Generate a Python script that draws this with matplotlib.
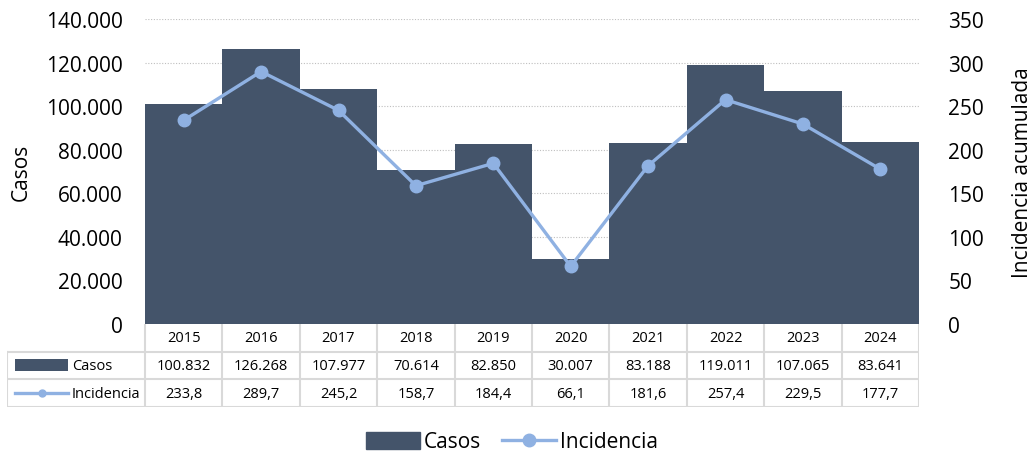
import matplotlib.pyplot as plt
from matplotlib.lines import Line2D
from matplotlib.patches import Patch, Rectangle

plt.rcParams['font.family'] = ['Open Sans', 'DejaVu Sans']

years = ["2015", "2016", "2017", "2018", "2019", "2020", "2021", "2022", "2023", "2024"]
casos = [100832, 126268, 107977, 70614, 82850, 30007, 83188, 119011, 107065, 83641]
incidencia = [233.8, 289.7, 245.2, 158.7, 184.4, 66.1, 181.6, 257.4, 229.5, 177.7]

BAR_COLOR = "#44546A"
LINE_COLOR = "#8FB1E2"
GRID_COLOR = "#D9D9D9"


def fmt_miles(v):
    return f"{v:,.0f}".replace(",", ".")


def fmt_dec(v):
    return f"{v:.1f}".replace(".", ",")


fig = plt.figure(figsize=(10.33, 4.56), dpi=100)
W, H = 1033, 456
ax = fig.add_axes([145 / W, 1 - 325 / H, (919 - 145) / W, (325 - 20) / H])
x = list(range(len(years)))

ax.bar(x, casos, width=1.0, color=BAR_COLOR, zorder=2)
ax.set_xlim(-0.5, len(years) - 0.5)
ax.set_ylim(0, 140000)
ax.set_yticks(range(0, 140001, 20000))
ax.set_yticklabels([fmt_miles(v) for v in range(0, 140001, 20000)], fontsize=15)
ax.set_xticks([])
ax.grid(axis='y', color="#BFBFBF", linestyle=(0, (1, 1.5)), linewidth=0.8, zorder=0)
for s in ax.spines.values():
    s.set_visible(False)
ax.tick_params(axis='y', length=0, pad=16)
ax.set_ylabel("Casos", fontsize=15, labelpad=10)

ax2 = ax.twinx()
ax2.plot(x, incidencia, color=LINE_COLOR, linewidth=2.4, marker='o', markersize=9, zorder=3)
ax2.set_ylim(0, 350)
ax2.set_yticks(range(0, 351, 50))
ax2.set_yticklabels([str(v) for v in range(0, 351, 50)], fontsize=15)
for s in ax2.spines.values():
    s.set_visible(False)
ax2.tick_params(axis='y', length=0, pad=21)
ax2.set_ylabel("Incidencia acumulada", fontsize=15, labelpad=20)

# data table below the chart
lab_w = (145 - 7) / ((919 - 145) / 10)
tab = fig.add_axes([7 / W, 1 - 408 / H, (919 - 7) / W, (408 - 325) / H])
tab.set_xlim(-0.5 - lab_w, len(years) - 0.5)
tab.set_ylim(0, 3)
tab.axis('off')
lw = 1.5
for yy in [0, 1, 2]:
    tab.plot([-0.5 - lab_w, len(years) - 0.5], [yy, yy], color=GRID_COLOR, lw=lw)
tab.plot([-0.5 - lab_w, -0.5 - lab_w], [0, 2], color=GRID_COLOR, lw=lw)
for i in range(len(years) + 1):
    tab.plot([i - 0.5, i - 0.5], [0, 3], color=GRID_COLOR, lw=lw)
for i, yr in enumerate(years):
    tab.text(i, 2.5, yr, ha='center', va='center', fontsize=10.5)
    tab.text(i, 1.5, fmt_miles(casos[i]), ha='center', va='center', fontsize=10.5)
    tab.text(i, 0.5, fmt_dec(incidencia[i]), ha='center', va='center', fontsize=10.5)
# row labels with legend keys
unit = (919 - 145) / 10
k0 = -0.5 - lab_w + 8 / unit
k1 = k0 + 53 / unit
tab.add_patch(Rectangle((k0, 1.3), k1 - k0, 0.42, color=BAR_COLOR, lw=0))
tab.text(k1 + 4 / unit, 1.5, "Casos", ha='left', va='center', fontsize=10.5)
tab.plot([k0, k1], [0.5, 0.5], color=LINE_COLOR, lw=2.4)
tab.plot([(k0 + k1) / 2], [0.5], 'o', color=LINE_COLOR, markersize=5)
tab.text(k1 + 4 / unit, 0.5, "Incidencia", ha='left', va='center', fontsize=10.5)

handles = [Patch(color=BAR_COLOR, label="Casos"),
           Line2D([], [], color=LINE_COLOR, lw=2.4, marker='o', markersize=9, label="Incidencia")]
fig.legend(handles=handles, loc='center', bbox_to_anchor=(512 / W, 1 - 443 / H), ncol=2,
           frameon=False, fontsize=15, handlelength=2.6, handleheight=0.9, columnspacing=1.0,
           handletextpad=0.2)

fig.savefig("out.png", dpi=100)
